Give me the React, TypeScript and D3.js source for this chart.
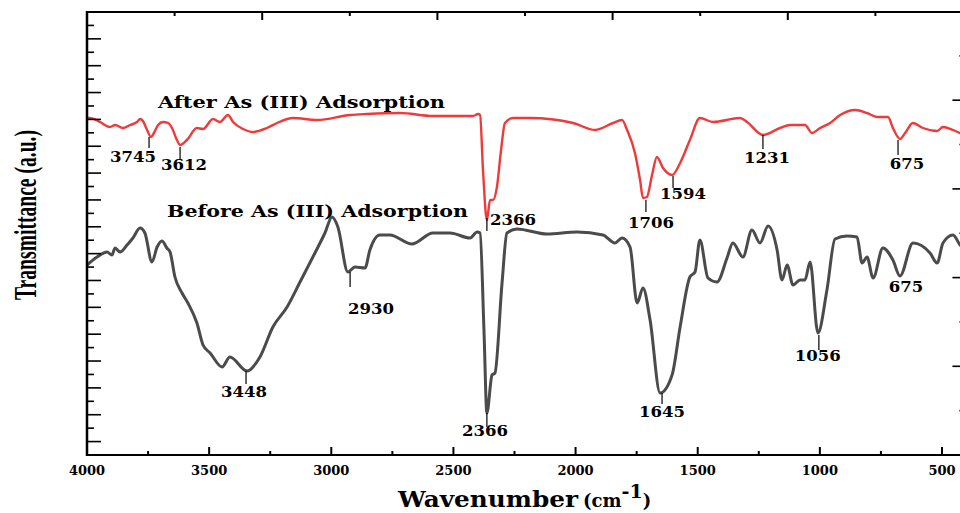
import * as d3 from "d3";

// FTIR spectra, wavenumber (cm-1) vs transmittance (a.u.)
const afterWn = [4000, 3988, 3947, 3906, 3885, 3853, 3824, 3795, 3783, 3771, 3754, 3738, 3726, 3709, 3689, 3668, 3652, 3632, 3619, 3591, 3550, 3525, 3484, 3456, 3423, 3402, 3361, 3320, 3263, 3222, 3157, 3058, 2923, 2854, 2719, 2584, 2420, 2399, 2391, 2379, 2363, 2350, 2338, 2322, 2305, 2289, 2256, 2187, 2010, 1920, 1847, 1810, 1789, 1757, 1736, 1724, 1708, 1687, 1667, 1642, 1605, 1572, 1532, 1491, 1437, 1327, 1298, 1233, 1163, 1122, 1061, 1032, 999, 958, 917, 856, 807, 766, 721, 701, 672, 651, 619, 578, 520, 496, 455, 426, 400];
const afterT = [84.25, 84.25, 83.25, 82, 82.5, 81.75, 82.5, 83.25, 84, 83.5, 81.25, 79.5, 80.5, 82.5, 83.25, 83, 81.75, 78.75, 77.5, 78.75, 81.75, 81.5, 84, 83.25, 85, 83.25, 81.5, 80.75, 81.75, 83, 84.25, 83.75, 85, 85.25, 85.5, 84.75, 84.75, 85.25, 85, 71.25, 58.75, 63.75, 63.75, 67, 76.25, 83, 84.25, 84.25, 83, 81.25, 83, 83.75, 81.25, 75.5, 68.75, 64.25, 64.5, 70, 74.5, 71.75, 70, 73, 78.75, 84.25, 83.25, 84.25, 83.25, 80, 81.75, 82.5, 82.5, 80.5, 81.75, 83, 85, 86.25, 85.5, 84.5, 84.5, 81.75, 79, 80.5, 83, 81.75, 81, 82, 81.25, 80.5, 80];

const beforeWn = [4000, 3959, 3918, 3898, 3885, 3865, 3836, 3812, 3783, 3763, 3734, 3713, 3693, 3673, 3660, 3640, 3611, 3587, 3550, 3525, 3496, 3447, 3415, 3345, 3292, 3239, 3181, 3128, 3067, 3026, 2997, 2973, 2932, 2903, 2862, 2842, 2801, 2760, 2670, 2584, 2514, 2432, 2403, 2391, 2375, 2363, 2342, 2330, 2301, 2281, 2240, 2117, 1994, 1888, 1839, 1810, 1777, 1748, 1724, 1695, 1654, 1605, 1572, 1532, 1511, 1491, 1458, 1421, 1380, 1356, 1315, 1278, 1245, 1212, 1175, 1155, 1134, 1110, 1081, 1061, 1040, 1008, 971, 938, 889, 848, 827, 807, 782, 742, 701, 672, 619, 549, 520, 496, 455, 426, 400];
const beforeT = [47.5, 49.5, 50.75, 50, 51.75, 50.75, 52.5, 54.25, 56.75, 55.5, 48.25, 52, 53.5, 51.75, 50.75, 44.5, 40.5, 38, 33, 27.5, 25.5, 22, 24.5, 21, 24.5, 32, 37, 43.25, 50.5, 55.5, 59.5, 57, 45.75, 47, 46.75, 51.25, 55, 55, 52.75, 55.5, 55.5, 54.25, 55.75, 55.5, 31.25, 10.5, 20, 20.5, 43, 55.5, 56.5, 55.25, 55.75, 55, 53, 54.25, 52, 38, 41.75, 33.75, 15.5, 20, 32, 44.5, 45.75, 53.75, 44.25, 43.25, 49.25, 53, 49.5, 56.25, 53, 57.25, 51.25, 43.75, 47.5, 42.5, 43.75, 43.75, 48.25, 30.5, 41.25, 54, 54.75, 54.5, 48, 49.5, 44.25, 51.75, 48.75, 44.75, 53, 50.5, 48, 53, 55, 52.5, 51.25];

// peak annotations
const peakLabels = ["3745", "3612", "2366", "1706", "1594", "1231", "675", "2930", "3448", "2366", "1645", "1056", "675"];
const peakWn = [3746, 3619, 2363, 1712, 1601, 1233, 680, 2923, 3349, 2363, 1646, 1004, 680];
const peakT = [79.5, 77, 59.25, 63.75, 69.75, 80, 78.75, 45.75, 21, 10.5, 15.5, 30, 44.75];
// layout of each annotation: [line length, text dx, text dy, anchor]
const peakLayout: [number, number, number, string][] = [
  [11, -16, 25, "middle"], [13, 4, 23, "middle"], [13, 3, 7, "start"], [12, 5, 28, "middle"],
  [12, 10, 23, "middle"], [14, 4, 28, "middle"], [15, 9, 29, "middle"], [15, 21, 42, "middle"],
  [13, -2, 26, "middle"], [14, -2, 23, "middle"], [11, 0, 24, "middle"], [15, -1, 26, "middle"],
  [0, 8, 16, "middle"],
];

const xMajor = [4000, 3500, 3000, 2500, 2000, 1500, 1000, 500];
const xMinor = [3750, 3250, 2750, 2250, 1750, 1250, 750];

const serifBold = "'DejaVu Serif', 'Liberation Serif', serif";

export default function App() {
  const x = d3.scaleLinear().domain([4000, 500]).range([87, 942]);
  const y = d3.scaleLinear().domain([0, 110.75]).range([455, 12]);
  const xEnd = x(400);
  const yLeft = d3.scaleLinear().domain([0, 33]).range([455, 12]);
  const yRight = d3.scaleLinear().domain([0, 10]).range([455, 11.5]);
  const xTop = d3.scaleLinear().domain([0, 10]).range([87, 963]);

  const path = (wn: number[], t: number[]) =>
    d3.line<number>()
      .x((_, i) => x(wn[i]))
      .y((d) => y(d))
      .curve(d3.curveMonotoneX)(t) ?? "";

  const y0 = y(0), y1 = y.range()[1], x0 = x(4000);

  return (
    <svg width={960} height={513} style={{ position: "absolute", left: 0, top: 0, background: "#fff" }}>
      {/* spectra */}
      <path d={path(beforeWn, beforeT)} fill="none" stroke="#4b4b4b" strokeWidth={3} strokeLinejoin="round" />
      <path d={path(afterWn, afterT)} fill="none" stroke="#ee3a3a" strokeWidth={2.4} strokeLinejoin="round" />

      {/* frame */}
      <line x1={x0} x2={xEnd} y1={y1} y2={y1} stroke="#000" strokeWidth={2} />
      <line x1={x0} x2={xEnd} y1={y0} y2={y0} stroke="#000" strokeWidth={2} />
      <line x1={x0} x2={x0} y1={y1 - 1} y2={y0 + 1} stroke="#000" strokeWidth={2.5} />
      <line x1={xEnd} x2={xEnd} y1={y1} y2={y0} stroke="#000" strokeWidth={2} />

      {/* bottom ticks */}
      {xMajor.map((v) => (
        <g key={"xm" + v}>
          <line x1={x(v)} x2={x(v)} y1={y0} y2={y0 - 8} stroke="#000" strokeWidth={2} />
          <text x={x(v)} y={475} textAnchor="middle" fontFamily={serifBold} fontWeight="bold" fontSize={13}>{v}</text>
        </g>
      ))}
      {xMinor.map((v) => (
        <line key={"xn" + v} x1={x(v)} x2={x(v)} y1={y0} y2={y0 - 4} stroke="#000" strokeWidth={2} />
      ))}

      {/* top ticks */}
      {d3.range(1, 11).map((k) => (
        <line key={"t" + k} x1={xTop(k)} x2={xTop(k)} y1={y1} y2={y1 + (k % 2 === 0 ? 8 : 4)} stroke="#000" strokeWidth={2} />
      ))}

      {/* left ticks */}
      {d3.range(1, 33).map((k) => (
        <line key={"l" + k} x1={x0} x2={x0 + (k % 2 === 1 ? 14 : 7)} y1={yLeft(k)} y2={yLeft(k)} stroke="#000" strokeWidth={1.6} />
      ))}

      {/* right ticks */}
      {d3.range(1, 10).map((k) => (
        <line key={"r" + k} x1={xEnd} x2={xEnd - (k % 2 === 0 ? 14 : 7)} y1={yRight(k)} y2={yRight(k)} stroke="#000" strokeWidth={1.6} />
      ))}

      {/* series labels */}
      <text x={158} y={108} fontFamily={serifBold} fontWeight="bold" fontSize={16} textLength={287} lengthAdjust="spacingAndGlyphs">After As (III) Adsorption</text>
      <text x={167} y={217} fontFamily={serifBold} fontWeight="bold" fontSize={16} textLength={301} lengthAdjust="spacingAndGlyphs">Before As (III) Adsorption</text>

      {/* peak annotations */}
      {peakLabels.map((lab, i) => {
        const [len, dx, dy, anchor] = peakLayout[i];
        const px = x(peakWn[i]);
        const py = y(peakT[i]);
        return (
          <g key={"p" + i}>
            {len > 0 && <line x1={px} x2={px} y1={py} y2={py + len} stroke="#000" strokeWidth={1.2} />}
            <text x={px + dx} y={py + dy} textAnchor={anchor} fontFamily={serifBold} fontWeight="bold" fontSize={15}
              textLength={lab.length * 11.5} lengthAdjust="spacingAndGlyphs">{lab}</text>
          </g>
        );
      })}

      {/* axis titles */}
      <text x={398} y={507} fontFamily={serifBold} fontWeight="bold">
        <tspan fontSize={22} textLength={180} lengthAdjust="spacingAndGlyphs">Wavenumber</tspan>
        <tspan fontSize={18} dx={5}>(cm</tspan>
        <tspan fontSize={19} dy={-9}>-1</tspan>
        <tspan fontSize={18} dy={9}>)</tspan>
      </text>
      <text transform="translate(36,215) rotate(-90)" textAnchor="middle" fontFamily="'Liberation Serif', 'Times New Roman', serif"
        fontSize={32} fontWeight="bold" textLength={170} lengthAdjust="spacingAndGlyphs">Transmittance (a.u.)</text>
    </svg>
  );
}
